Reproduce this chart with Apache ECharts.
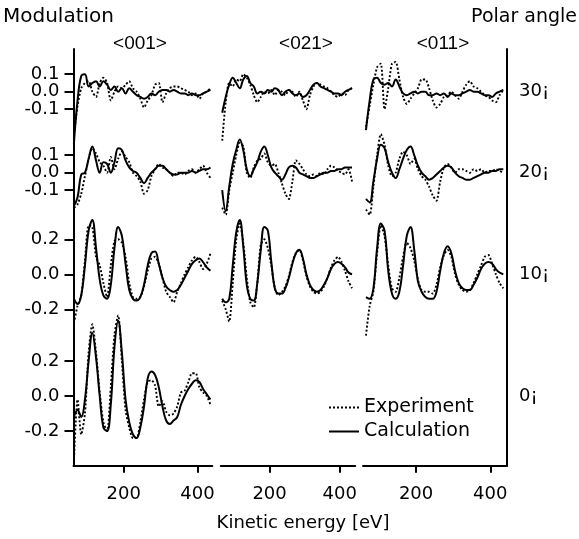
<!DOCTYPE html>
<html><head><meta charset="utf-8">
<script src="https://cdn.jsdelivr.net/npm/echarts@6/dist/echarts.min.js"></script>
<style>html,body{margin:0;padding:0;background:#fff}#c{width:579px;height:539px}</style>
</head><body><div id="c"></div>
<script>
// ---------------- data ----------------
const energy = [65,75,85,95,105,115,125,135,145,155,165,175,185,195,205,215,225,235,245,255,265,275,285,295,305,315,325,335,345,355,365,375,385,395,405,415,425,435];
const columnLabels = ['<001>', '<021>', '<011>'];
const angleLabels = ['30¡', '20¡', '10¡', '0¡'];
const yTicksSmallOuter = [-0.1, 0.1];
const yTicksLargeOuter = [-0.2, 0.2];
const yTickZero = [0];
const xTicks = [200, 400];

// 30 deg
const calc30_001 = [-0.30,-0.05,0.09,0.10,0.03,0.05,0.06,0.03,0.06,0.04,0.01,0.03,0.00,0.02,-0.01,0.02,0.00,-0.02,-0.03,-0.04,-0.03,-0.01,-0.02,0.00,0.01,0.01,0.00,0.01,0.00,-0.01,-0.01,-0.02,-0.01,-0.02,-0.02,-0.01,0.00,0.01];
const exp30_001  = [-0.25,-0.08,0.02,0.05,0.06,0.00,-0.03,0.05,0.08,0.05,-0.05,0.00,0.03,0.02,0.04,0.06,0.02,0.00,-0.04,-0.09,-0.05,-0.02,0.04,0.05,-0.06,-0.01,0.02,0.03,0.03,0.02,0.01,0.00,-0.02,-0.01,-0.04,-0.01,0.00,0.02];
const calc30_021 = [-0.12,-0.03,0.04,0.08,0.05,0.02,0.07,0.09,0.05,0.03,-0.01,0.00,-0.01,0.01,0.00,0.02,0.01,-0.02,0.00,0.01,-0.01,-0.02,-0.01,-0.03,-0.02,0.01,0.04,0.05,0.03,0.02,0.01,0.00,-0.01,-0.01,-0.02,0.00,0.01,0.02];
const exp30_021  = [-0.28,-0.06,0.05,0.03,0.07,0.06,0.10,0.08,0.04,-0.02,-0.06,-0.03,0.00,-0.01,0.01,-0.02,0.01,0.00,-0.02,0.01,0.00,-0.03,0.00,-0.05,-0.10,-0.02,0.03,0.05,0.04,0.03,0.02,0.00,-0.02,-0.03,-0.01,-0.02,0.01,0.02];
const calc30_011 = [-0.22,-0.05,0.07,0.08,0.05,0.04,0.05,0.03,0.07,0.03,-0.01,-0.02,-0.01,0.00,-0.01,0.00,0.00,-0.02,-0.02,-0.01,-0.02,-0.01,-0.03,-0.01,-0.02,-0.02,-0.01,0.00,0.01,0.00,0.00,-0.01,-0.02,-0.02,-0.03,-0.01,0.00,0.01];
const exp30_011  = [-0.20,-0.08,0.04,0.14,0.16,-0.10,0.02,0.16,0.17,0.07,-0.03,-0.07,-0.04,-0.01,0.02,0.07,0.07,0.02,-0.05,-0.09,-0.07,-0.03,-0.02,0.00,-0.02,-0.04,0.00,0.04,0.06,0.03,0.02,0.00,-0.02,-0.03,-0.05,-0.06,-0.02,0.01];
// 20 deg
const calc20_001 = [-0.19,-0.14,-0.01,0.00,0.08,0.15,0.07,0.00,0.06,0.05,0.00,0.06,0.14,0.13,0.07,0.03,0.01,0.00,-0.03,-0.06,-0.03,0.00,0.02,0.04,0.04,0.02,0.00,-0.01,-0.01,0.00,0.00,0.00,0.01,0.00,0.01,0.02,0.02,0.03];
const exp20_001  = [-0.20,-0.18,-0.12,-0.02,0.08,0.14,0.11,0.06,0.04,0.00,0.09,0.02,0.08,0.12,0.09,0.06,0.00,-0.02,-0.05,-0.12,-0.10,-0.02,0.02,0.05,0.03,0.02,0.00,-0.02,0.00,0.00,-0.01,0.01,0.02,0.00,0.02,0.04,0.00,-0.03];
const calc20_021 = [-0.10,-0.22,-0.08,0.05,0.13,0.19,0.13,0.02,-0.02,0.02,0.06,0.12,0.15,0.10,0.03,0.00,-0.02,-0.04,-0.01,0.03,0.04,0.03,0.00,-0.01,-0.02,-0.03,-0.03,-0.02,-0.01,0.00,0.00,0.01,0.01,0.02,0.02,0.03,0.03,0.03];
const exp20_021  = [-0.20,-0.24,-0.10,0.00,0.10,0.17,0.15,0.00,-0.03,0.03,0.07,0.08,0.11,0.06,0.04,0.05,0.00,-0.06,-0.12,-0.15,-0.05,0.07,0.05,0.02,-0.01,-0.02,-0.01,-0.02,0.00,-0.01,0.02,0.04,0.03,0.01,0.00,-0.01,0.02,-0.05];
const calc20_011 = [-0.15,-0.17,-0.05,0.08,0.16,0.14,0.06,0.00,-0.03,0.02,0.08,0.13,0.15,0.10,0.04,0.00,-0.02,-0.04,-0.03,-0.01,0.01,0.03,0.04,0.03,0.00,-0.02,-0.03,-0.04,-0.04,-0.03,-0.02,-0.01,0.00,0.00,0.01,0.01,0.02,0.02];
const exp20_011  = [-0.21,-0.24,-0.08,0.10,0.22,0.16,0.04,-0.02,0.00,0.08,0.12,0.10,0.05,0.08,0.02,-0.02,-0.04,-0.08,-0.13,-0.16,-0.05,0.03,0.05,0.03,0.00,0.02,0.02,0.01,0.00,0.02,0.01,0.02,0.00,0.01,0.01,0.02,0.01,0.00];
// 10 deg
const calc10_001 = [-0.14,-0.17,-0.12,0.05,0.25,0.31,0.15,-0.03,-0.12,-0.14,-0.06,0.15,0.27,0.22,0.06,-0.09,-0.14,-0.15,-0.13,-0.06,0.05,0.12,0.13,0.06,-0.02,-0.07,-0.09,-0.10,-0.09,-0.06,-0.02,0.02,0.06,0.08,0.09,0.07,0.04,0.02];
const exp10_001  = [-0.28,-0.18,-0.12,0.08,0.28,0.27,0.10,0.05,-0.05,-0.13,0.05,0.19,0.20,0.18,0.10,-0.05,-0.13,-0.14,-0.13,-0.07,0.02,0.09,0.10,0.06,-0.02,-0.10,-0.13,-0.16,-0.10,-0.05,0.00,0.04,0.08,0.10,0.07,0.03,0.06,0.12];
const calc10_021 = [-0.14,-0.16,-0.14,0.05,0.24,0.31,0.16,-0.06,-0.14,-0.15,-0.05,0.14,0.27,0.25,0.07,-0.08,-0.11,-0.11,-0.08,-0.02,0.06,0.12,0.14,0.09,0.00,-0.06,-0.09,-0.10,-0.09,-0.06,-0.02,0.03,0.06,0.07,0.06,0.04,0.01,0.00];
const exp10_021  = [-0.15,-0.20,-0.27,-0.05,0.20,0.29,0.18,-0.02,-0.16,-0.19,-0.05,0.17,0.20,0.15,0.05,-0.08,-0.12,-0.10,-0.07,-0.01,0.07,0.12,0.14,0.08,-0.01,-0.07,-0.10,-0.11,-0.10,-0.07,-0.02,0.04,0.08,0.10,0.07,0.02,-0.04,-0.08];
const calc10_011 = [-0.13,-0.14,-0.08,0.15,0.29,0.25,0.02,-0.11,-0.14,-0.10,0.05,0.22,0.27,0.14,-0.04,-0.10,-0.13,-0.14,-0.14,-0.10,0.02,0.12,0.16,0.12,0.02,-0.05,-0.08,-0.09,-0.09,-0.06,-0.02,0.03,0.06,0.07,0.06,0.03,0.01,0.00];
const exp10_011  = [-0.35,-0.18,-0.10,0.12,0.28,0.22,0.05,-0.08,-0.10,-0.02,0.10,0.18,0.15,0.08,-0.03,-0.09,-0.10,-0.10,-0.11,-0.06,0.04,0.11,0.14,0.10,0.00,-0.06,-0.09,-0.10,-0.09,-0.05,0.00,0.05,0.10,0.11,0.06,0.00,-0.05,-0.08];
// 0 deg
const calc0_001 = [-0.12,-0.08,-0.12,-0.02,0.20,0.36,0.22,0.00,-0.18,-0.20,-0.05,0.28,0.43,0.25,-0.02,-0.15,-0.22,-0.24,-0.18,-0.06,0.10,0.14,0.12,0.05,-0.06,-0.14,-0.16,-0.14,-0.12,-0.05,0.00,0.04,0.07,0.09,0.08,0.04,0.01,-0.02];
const exp0_001  = [-0.38,-0.02,-0.22,-0.10,0.25,0.41,0.25,0.02,-0.15,-0.20,0.05,0.35,0.46,0.20,-0.08,-0.18,-0.24,-0.24,-0.15,-0.02,0.08,0.09,0.06,-0.06,-0.03,-0.09,-0.11,-0.10,-0.06,0.02,0.03,0.08,0.13,0.13,0.05,0.02,0.00,-0.05];

// ---------------- layout ----------------
const FONT = 'DejaVu Sans';
const HFONT = 'Liberation Sans';
const PX = 175;                       // pixels per modulation unit
const rowZero = [91.7, 172.7, 274.3, 396];
const rowTop = [49, 132, 223, 335];
const rowBottom = [132, 223, 335, 465.7];
const AXIS_BOTTOM = 465.7;
const colLeft = [73.5, 220.8, 363];
const colRight = [212.3, 355.2, 507];
const colMin = [64, 61, 57];
const colMax = [440, 444, 445];

const panels = [
  {row:0, col:0, calc:calc30_001, exp:exp30_001},
  {row:0, col:1, calc:calc30_021, exp:exp30_021},
  {row:0, col:2, calc:calc30_011, exp:exp30_011},
  {row:1, col:0, calc:calc20_001, exp:exp20_001},
  {row:1, col:1, calc:calc20_021, exp:exp20_021},
  {row:1, col:2, calc:calc20_011, exp:exp20_011},
  {row:2, col:0, calc:calc10_001, exp:exp10_001},
  {row:2, col:1, calc:calc10_021, exp:exp10_021, bottom:true},
  {row:2, col:2, calc:calc10_011, exp:exp10_011, bottom:true},
  {row:3, col:0, calc:calc0_001, exp:exp0_001, bottom:true}
];

const grids = [], xAxes = [], yAxes = [], auxY = [], series = [];
const tickLine = {color: '#000', width: 2};
const yLabel = (custom, show) => ({show: show, customValues: custom, interval: 0, margin: 14, color: '#000',
  fontFamily: FONT, fontSize: 18, hideOverlap: false, formatter: v => v.toFixed(1)});
panels.forEach((p, i) => {
  const top = rowTop[p.row];
  const bot = p.bottom ? AXIS_BOTTOM : rowBottom[p.row];
  grids.push({left: colLeft[p.col], top: top, width: colRight[p.col] - colLeft[p.col], height: bot - top});
  xAxes.push({
    type: 'value', gridIndex: i, min: colMin[p.col], max: colMax[p.col],
    show: !!p.bottom,
    splitLine: {show: false},
    axisLine: {show: true, onZero: false, lineStyle: {color: '#000', width: 2}},
    axisTick: {show: true, customValues: xTicks, length: 7, inside: false, lineStyle: tickLine},
    axisLabel: {show: true, customValues: xTicks, margin: 20, color: '#000', fontFamily: FONT, fontSize: 18}
  });
  const yMin = -(bot - rowZero[p.row]) / PX, yMax = (rowZero[p.row] - top) / PX;
  yAxes.push({
    type: 'value', gridIndex: i, min: yMin, max: yMax,
    position: p.col === 2 ? 'right' : 'left', offset: 0,
    show: p.col !== 1,
    splitLine: {show: false},
    axisLine: {show: true, onZero: false, lineStyle: {color: '#000', width: 2}},
    axisTick: {show: p.col === 0, customValues: yTickZero, interval: 0, length: 9, lineStyle: tickLine},
    axisLabel: yLabel(yTickZero, p.col === 0)
  });
  if (p.col === 0) {
    const outer = p.row >= 2 ? yTicksLargeOuter : yTicksSmallOuter;
    auxY.push({
      type: 'value', gridIndex: i, min: yMin, max: yMax, position: 'left', offset: 0,
      splitLine: {show: false},
      axisLine: {show: false, onZero: false},
      axisTick: {show: true, customValues: outer, interval: 0, length: 9, lineStyle: tickLine},
      axisLabel: yLabel(outer, true)
    });
  }
  series.push({
    name: 'Experiment', type: 'line', xAxisIndex: i, yAxisIndex: i, symbol: 'none', clip: false,
    smooth: 0.25, data: energy.map((e, k) => [e, p.exp[k]]),
    lineStyle: {color: '#000', width: 1.9, type: [2, 2]}, itemStyle: {color: '#000'}
  });
  series.push({
    name: 'Calculation', type: 'line', xAxisIndex: i, yAxisIndex: i, symbol: 'none', clip: false,
    smooth: 0.4, data: energy.map((e, k) => [e, p.calc[k]]),
    lineStyle: {color: '#000', width: 2, type: 'solid'}, itemStyle: {color: '#000'}
  });
});

const txt = (x, y, text, size, align, family) => ({
  type: 'text', x: x, y: y, silent: true,
  style: {text: text, fill: '#000', font: size + 'px "' + (family || FONT) + '"', textAlign: align, textVerticalAlign: 'middle'}
});
const headerX = [140, 306, 443];
const graphics = [
  txt(3, 17, 'Modulation', 20, 'left'),
  txt(577, 17, 'Polar angle', 19, 'right'),
  txt(303, 523, 'Kinetic energy [eV]', 18, 'center')
];
columnLabels.forEach((t, c) => graphics.push(txt(headerX[c], 44, t, 19, 'center', HFONT)));
angleLabels.forEach((t, r) => graphics.push(txt(519, rowZero[r], t, 18, 'left')));

const chart = echarts.init(document.getElementById('c'), null, {renderer: 'canvas'});
chart.setOption({
  animation: false,
  backgroundColor: '#fff',
  grid: grids, xAxis: xAxes, yAxis: yAxes.concat(auxY), series: series,
  legend: {
    data: ['Experiment', 'Calculation'], orient: 'vertical', left: 323, top: 393,
    itemWidth: 30, itemHeight: 12, itemGap: 5, selectedMode: false,
    itemStyle: {opacity: 0},
    textStyle: {color: '#000', fontFamily: FONT, fontSize: 19}
  },
  graphic: {elements: graphics}
});
</script>
</body></html>
